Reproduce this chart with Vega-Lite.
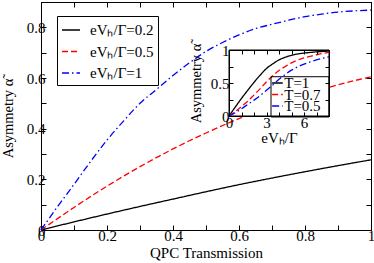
{
  "$schema": "https://vega.github.io/schema/vega-lite/v6.json",
  "width": 330,
  "height": 228,
  "autosize": "none",
  "padding": {"left": 41, "top": 2, "right": 3, "bottom": 33},
  "config": {
    "font": "Liberation Serif",
    "view": {"stroke": "black", "strokeWidth": 1},
    "axis": {
      "domainColor": "black", "tickColor": "black", "labelColor": "black", "titleColor": "black",
      "labelFont": "Liberation Serif", "titleFont": "Liberation Serif",
      "labelFontSize": 15, "titleFontSize": 15, "titleFontWeight": "normal",
      "tickSize": -5, "grid": false, "labelOverlap": false, "labelFlush": false, "labelPadding": 3
    },
    "legend": {
      "labelFont": "Liberation Serif", "labelColor": "black", "strokeColor": "black",
      "symbolType": "stroke", "labelLimit": 200
    }
  },
  "datasets": {
    "main": [
      {"T": 0, "alpha": 0, "series": "eVₕ/Γ=0.2"},
      {"T": 0.1, "alpha": 0.032, "series": "eVₕ/Γ=0.2"},
      {"T": 0.2, "alpha": 0.063, "series": "eVₕ/Γ=0.2"},
      {"T": 0.3, "alpha": 0.093, "series": "eVₕ/Γ=0.2"},
      {"T": 0.4, "alpha": 0.122, "series": "eVₕ/Γ=0.2"},
      {"T": 0.5, "alpha": 0.151, "series": "eVₕ/Γ=0.2"},
      {"T": 0.6, "alpha": 0.179, "series": "eVₕ/Γ=0.2"},
      {"T": 0.7, "alpha": 0.205, "series": "eVₕ/Γ=0.2"},
      {"T": 0.8, "alpha": 0.23, "series": "eVₕ/Γ=0.2"},
      {"T": 0.9, "alpha": 0.254, "series": "eVₕ/Γ=0.2"},
      {"T": 1.0, "alpha": 0.277, "series": "eVₕ/Γ=0.2"},
      {"T": 0, "alpha": 0, "series": "eVₕ/Γ=0.5"},
      {"T": 0.05, "alpha": 0.045, "series": "eVₕ/Γ=0.5"},
      {"T": 0.1, "alpha": 0.089, "series": "eVₕ/Γ=0.5"},
      {"T": 0.2, "alpha": 0.173, "series": "eVₕ/Γ=0.5"},
      {"T": 0.3, "alpha": 0.25, "series": "eVₕ/Γ=0.5"},
      {"T": 0.4, "alpha": 0.32, "series": "eVₕ/Γ=0.5"},
      {"T": 0.5, "alpha": 0.383, "series": "eVₕ/Γ=0.5"},
      {"T": 0.6, "alpha": 0.44, "series": "eVₕ/Γ=0.5"},
      {"T": 0.7, "alpha": 0.49, "series": "eVₕ/Γ=0.5"},
      {"T": 0.8, "alpha": 0.535, "series": "eVₕ/Γ=0.5"},
      {"T": 0.9, "alpha": 0.573, "series": "eVₕ/Γ=0.5"},
      {"T": 1.0, "alpha": 0.605, "series": "eVₕ/Γ=0.5"},
      {"T": 0, "alpha": 0, "series": "eVₕ/Γ=1"},
      {"T": 0.05, "alpha": 0.092, "series": "eVₕ/Γ=1"},
      {"T": 0.1, "alpha": 0.18, "series": "eVₕ/Γ=1"},
      {"T": 0.15, "alpha": 0.27, "series": "eVₕ/Γ=1"},
      {"T": 0.2, "alpha": 0.355, "series": "eVₕ/Γ=1"},
      {"T": 0.25, "alpha": 0.43, "series": "eVₕ/Γ=1"},
      {"T": 0.3, "alpha": 0.5, "series": "eVₕ/Γ=1"},
      {"T": 0.35, "alpha": 0.555, "series": "eVₕ/Γ=1"},
      {"T": 0.4, "alpha": 0.61, "series": "eVₕ/Γ=1"},
      {"T": 0.45, "alpha": 0.66, "series": "eVₕ/Γ=1"},
      {"T": 0.5, "alpha": 0.705, "series": "eVₕ/Γ=1"},
      {"T": 0.55, "alpha": 0.74, "series": "eVₕ/Γ=1"},
      {"T": 0.6, "alpha": 0.77, "series": "eVₕ/Γ=1"},
      {"T": 0.65, "alpha": 0.795, "series": "eVₕ/Γ=1"},
      {"T": 0.7, "alpha": 0.812, "series": "eVₕ/Γ=1"},
      {"T": 0.75, "alpha": 0.828, "series": "eVₕ/Γ=1"},
      {"T": 0.8, "alpha": 0.842, "series": "eVₕ/Γ=1"},
      {"T": 0.85, "alpha": 0.852, "series": "eVₕ/Γ=1"},
      {"T": 0.9, "alpha": 0.86, "series": "eVₕ/Γ=1"},
      {"T": 0.95, "alpha": 0.865, "series": "eVₕ/Γ=1"},
      {"T": 1.0, "alpha": 0.868, "series": "eVₕ/Γ=1"}
    ],
    "inset": [
      {"e": 0, "a": 0, "curve": "T=1"},
      {"e": 0.5, "a": 0.135, "curve": "T=1"},
      {"e": 1, "a": 0.267, "curve": "T=1"},
      {"e": 1.5, "a": 0.39, "curve": "T=1"},
      {"e": 2, "a": 0.51, "curve": "T=1"},
      {"e": 2.5, "a": 0.62, "curve": "T=1"},
      {"e": 3, "a": 0.72, "curve": "T=1"},
      {"e": 3.5, "a": 0.79, "curve": "T=1"},
      {"e": 4, "a": 0.85, "curve": "T=1"},
      {"e": 4.5, "a": 0.89, "curve": "T=1"},
      {"e": 5, "a": 0.92, "curve": "T=1"},
      {"e": 5.5, "a": 0.94, "curve": "T=1"},
      {"e": 6, "a": 0.953, "curve": "T=1"},
      {"e": 6.5, "a": 0.963, "curve": "T=1"},
      {"e": 7, "a": 0.972, "curve": "T=1"},
      {"e": 7.5, "a": 0.978, "curve": "T=1"},
      {"e": 8, "a": 0.983, "curve": "T=1"},
      {"e": 0, "a": 0, "curve": "T=0.7"},
      {"e": 0.5, "a": 0.07, "curve": "T=0.7"},
      {"e": 1, "a": 0.145, "curve": "T=0.7"},
      {"e": 1.5, "a": 0.225, "curve": "T=0.7"},
      {"e": 2, "a": 0.32, "curve": "T=0.7"},
      {"e": 2.5, "a": 0.415, "curve": "T=0.7"},
      {"e": 3, "a": 0.52, "curve": "T=0.7"},
      {"e": 3.5, "a": 0.61, "curve": "T=0.7"},
      {"e": 4, "a": 0.69, "curve": "T=0.7"},
      {"e": 4.5, "a": 0.75, "curve": "T=0.7"},
      {"e": 5, "a": 0.805, "curve": "T=0.7"},
      {"e": 5.5, "a": 0.848, "curve": "T=0.7"},
      {"e": 6, "a": 0.88, "curve": "T=0.7"},
      {"e": 6.5, "a": 0.905, "curve": "T=0.7"},
      {"e": 7, "a": 0.928, "curve": "T=0.7"},
      {"e": 7.5, "a": 0.948, "curve": "T=0.7"},
      {"e": 8, "a": 0.965, "curve": "T=0.7"},
      {"e": 0, "a": 0, "curve": "T=0.5"},
      {"e": 0.5, "a": 0.05, "curve": "T=0.5"},
      {"e": 1, "a": 0.11, "curve": "T=0.5"},
      {"e": 1.5, "a": 0.175, "curve": "T=0.5"},
      {"e": 2, "a": 0.24, "curve": "T=0.5"},
      {"e": 2.5, "a": 0.31, "curve": "T=0.5"},
      {"e": 3, "a": 0.39, "curve": "T=0.5"},
      {"e": 3.5, "a": 0.47, "curve": "T=0.5"},
      {"e": 4, "a": 0.555, "curve": "T=0.5"},
      {"e": 4.5, "a": 0.63, "curve": "T=0.5"},
      {"e": 5, "a": 0.695, "curve": "T=0.5"},
      {"e": 5.5, "a": 0.745, "curve": "T=0.5"},
      {"e": 6, "a": 0.785, "curve": "T=0.5"},
      {"e": 6.5, "a": 0.82, "curve": "T=0.5"},
      {"e": 7, "a": 0.85, "curve": "T=0.5"},
      {"e": 7.5, "a": 0.875, "curve": "T=0.5"},
      {"e": 8, "a": 0.897, "curve": "T=0.5"}
    ],
    "insetKeys": [{"curve": "T=1"}, {"curve": "T=0.7"}, {"curve": "T=0.5"}],
    "box": [{"panel": "inset"}]
  },
  "layer": [
    {
      "data": {"name": "main"},
      "mark": {"type": "line", "strokeWidth": 1.3, "interpolate": "monotone"},
      "encoding": {
        "x": {"field": "T", "type": "quantitative", "scale": {"domain": [0, 1]},
          "axis": {"values": [0, 0.2, 0.4, 0.6, 0.8, 1], "format": "~g", "labelOverlap": false,
            "title": "QPC Transmission", "titlePadding": 2}},
        "y": {"field": "alpha", "type": "quantitative", "scale": {"domain": [0, 0.9]},
          "axis": {"values": [0, 0.2, 0.4, 0.6, 0.8], "format": "~g", "labelOverlap": false,
            "labelPadding": 1, "title": "Asymmetry α̃", "titleFontSize": 14.5,
            "titleX": -29, "titleY": 116, "titleAngle": -90, "titleAlign": "center", "titleBaseline": "alphabetic"}},
        "color": {"field": "series", "type": "nominal",
          "scale": {"domain": ["eVₕ/Γ=0.2", "eVₕ/Γ=0.5", "eVₕ/Γ=1"], "range": ["black", "red", "blue"]},
          "legend": {"title": null, "orient": "none", "legendX": 16, "legendY": 14, "padding": 4,
            "symbolSize": 324, "symbolStrokeWidth": 1.3, "labelFontSize": 15, "labelOffset": 9, "rowPadding": 3.5}},
        "strokeDash": {"field": "series", "type": "nominal",
          "scale": {"domain": ["eVₕ/Γ=0.2", "eVₕ/Γ=0.5", "eVₕ/Γ=1"], "range": [[1, 0], [6, 3], [7, 3, 1.5, 3]]},
          "legend": {"title": null, "orient": "none", "legendX": 16, "legendY": 14, "padding": 4,
            "symbolSize": 324, "symbolStrokeWidth": 1.3, "labelFontSize": 15, "labelOffset": 9, "rowPadding": 3.5}}
      }
    },
    {
      "data": {"name": "main"},
      "mark": {"type": "point", "opacity": 0},
      "encoding": {
        "x": {"field": "T", "type": "quantitative", "scale": {"domain": [0, 1]},
          "axis": {"orient": "top", "values": [0, 0.1, 0.2, 0.3, 0.4, 0.5, 0.6, 0.7, 0.8, 0.9, 1], "labels": false, "title": null}},
        "y": {"field": "alpha", "type": "quantitative", "scale": {"domain": [0, 0.9]},
          "axis": {"orient": "right", "values": [0, 0.1, 0.2, 0.3, 0.4, 0.5, 0.6, 0.7, 0.8, 0.9], "labels": false, "title": null}}
      }
    },
    {
      "data": {"name": "main"},
      "mark": {"type": "point", "opacity": 0},
      "encoding": {
        "x": {"field": "T", "type": "quantitative", "scale": {"domain": [0, 1]},
          "axis": {"orient": "bottom", "values": [0.1, 0.3, 0.5, 0.7, 0.9], "labels": false, "title": null, "domain": false}},
        "y": {"field": "alpha", "type": "quantitative", "scale": {"domain": [0, 0.9]},
          "axis": {"orient": "left", "values": [0.1, 0.3, 0.5, 0.7, 0.9], "labels": false, "title": null, "domain": false}}
      }
    },
    {
      "data": {"name": "box"},
      "mark": {"type": "rect", "fill": "white", "stroke": "black", "strokeWidth": 1},
      "encoding": {
        "x": {"datum": 0, "type": "quantitative", "scale": {"domain": [0, 8], "range": [188, 288]},
          "axis": {"orient": "top", "offset": -48, "values": [0, 1, 2, 3, 4, 5, 6, 7, 8], "labels": false, "title": null, "tickSize": -4, "zindex": 1}},
        "x2": {"datum": 8},
        "y": {"datum": 0, "type": "quantitative", "scale": {"domain": [0, 1], "range": [114, 48]},
          "axis": {"orient": "right", "offset": -42, "values": [0, 0.25, 0.5, 0.75, 1], "labels": false, "title": null, "tickSize": -4, "zindex": 1}},
        "y2": {"datum": 1}
      }
    },
    {
      "data": {"name": "box"},
      "mark": {"type": "rect", "opacity": 0},
      "encoding": {
        "x": {"datum": 0, "type": "quantitative", "scale": {"domain": [0, 8], "range": [188, 288]},
          "axis": {"orient": "bottom", "offset": -114, "values": [1, 2, 4, 5, 7, 8], "labels": false, "title": null, "tickSize": -4, "zindex": 1, "domain": false}},
        "x2": {"datum": 8},
        "y": {"datum": 0, "type": "quantitative", "scale": {"domain": [0, 1], "range": [114, 48]},
          "axis": {"orient": "left", "offset": -188, "values": [0.25, 0.75], "labels": false, "title": null, "tickSize": -4, "zindex": 1, "domain": false}},
        "y2": {"datum": 1}
      }
    },
    {
      "data": {"name": "inset"},
      "mark": {"type": "line", "strokeWidth": 1.3, "interpolate": "monotone"},
      "encoding": {
        "x": {"field": "e", "type": "quantitative", "scale": {"domain": [0, 8], "range": [188, 288]},
          "axis": {"orient": "bottom", "offset": -114, "values": [0, 3, 6], "format": "~g", "labelOverlap": false,
            "tickSize": -4, "zindex": 1, "title": "eVₕ/Γ", "titlePadding": 0}},
        "y": {"field": "a", "type": "quantitative", "scale": {"domain": [0, 1], "range": [114, 48]},
          "axis": {"orient": "left", "offset": -188, "values": [0, 0.5, 1], "format": "~g", "labelOverlap": false,
            "tickSize": -4, "zindex": 1, "labelPadding": 4, "title": "Asymmetry α̃", "titleFontSize": 14.5,
            "titleX": -29, "titleY": 81, "titleAngle": -90, "titleAlign": "center", "titleBaseline": "alphabetic"}},
        "color": {"field": "curve", "type": "nominal",
          "scale": {"domain": ["T=1", "T=0.7", "T=0.5"], "range": ["black", "red", "blue"]}, "legend": null},
        "strokeDash": {"field": "curve", "type": "nominal",
          "scale": {"domain": ["T=1", "T=0.7", "T=0.5"], "range": [[1, 0], [6, 3], [7, 3, 1.5, 3]]}, "legend": null}
      }
    },
    {
      "data": {"name": "box"},
      "mark": {"type": "rect", "fill": null, "fillOpacity": 0, "stroke": "black", "strokeWidth": 1},
      "encoding": {
        "x": {"datum": 3.36, "type": "quantitative", "scale": {"domain": [0, 8], "range": [188, 288]}, "axis": null},
        "x2": {"datum": 8},
        "y": {"datum": -0.015, "type": "quantitative", "scale": {"domain": [0, 1], "range": [114, 48]}, "axis": null},
        "y2": {"datum": 0.595}
      }
    },
    {
      "data": {"name": "insetKeys"},
      "mark": {"type": "rule", "strokeWidth": 1.3},
      "encoding": {
        "x": {"datum": 3.45, "type": "quantitative", "scale": {"domain": [0, 8], "range": [188, 288]}, "axis": null},
        "x2": {"datum": 4.3},
        "y": {"field": "curve", "type": "nominal", "scale": {"type": "point", "domain": ["T=1", "T=0.7", "T=0.5"], "range": [81, 104], "padding": 0}, "axis": null},
        "color": {"field": "curve", "type": "nominal",
          "scale": {"domain": ["T=1", "T=0.7", "T=0.5"], "range": ["black", "red", "blue"]}, "legend": null},
        "strokeDash": {"field": "curve", "type": "nominal",
          "scale": {"domain": ["T=1", "T=0.7", "T=0.5"], "range": [[1, 0], [6, 3], [7, 3, 1.5, 3]]}, "legend": null}
      }
    },
    {
      "data": {"name": "insetKeys"},
      "mark": {"type": "text", "align": "left", "baseline": "middle", "fontSize": 15, "font": "Liberation Serif", "color": "black"},
      "encoding": {
        "x": {"datum": 4.42, "type": "quantitative", "scale": {"domain": [0, 8], "range": [188, 288]}, "axis": null},
        "y": {"field": "curve", "type": "nominal", "scale": {"type": "point", "domain": ["T=1", "T=0.7", "T=0.5"], "range": [81, 104], "padding": 0}, "axis": null},
        "text": {"field": "curve"}
      }
    }
  ],
  "resolve": {
    "scale": {"x": "independent", "y": "independent", "color": "independent", "strokeDash": "independent"},
    "axis": {"x": "independent", "y": "independent"},
    "legend": {"color": "independent", "strokeDash": "independent"}
  }
}
